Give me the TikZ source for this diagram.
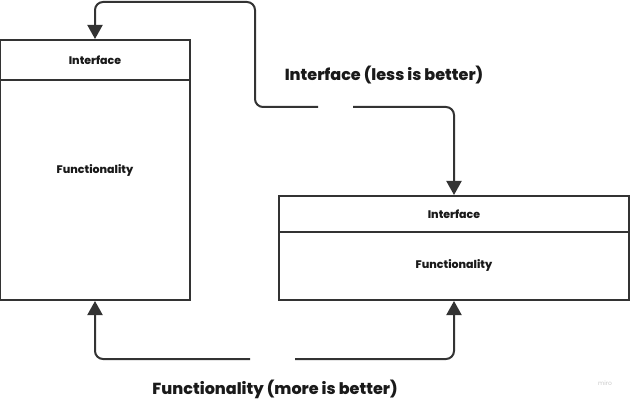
\documentclass[tikz,border=0pt]{standalone}
\usepackage{fontspec}
\setmainfont{Poppins}[BoldFont={Poppins ExtraBold}]
\usetikzlibrary{arrows.meta}
\definecolor{inkgray}{HTML}{333333}
\definecolor{textblack}{HTML}{1A1A1A}
\definecolor{mirogray}{HTML}{C8C8C8}

\begin{document}
\begin{tikzpicture}[x=1pt, y=-1pt, >={Triangle[width=15pt,length=14pt]},
    box/.style={draw=inkgray, line width=2pt, fill=white, inner sep=0pt},
    lbl/.style={text=textblack, font=\bfseries\fontsize{11}{13}\selectfont},
    caption/.style={text=textblack, font=\bfseries\fontsize{16}{19}\selectfont},
    conn/.style={draw=inkgray, line width=2pt, rounded corners=8pt, ->}]

    \useasboundingbox (0,0) rectangle (630,401);

    % left component
    \node[box, minimum width=190pt, minimum height=40pt] (lint) at (95,60) {};
    \node[box, minimum width=190pt, minimum height=220pt] (lfun) at (95,190) {};
    \node[lbl] (lintxt) at (95,60) {Interface};
    \node[lbl] (lfuntxt) at (95,170) {Functionality};

    % right component
    \node[box, minimum width=350pt, minimum height=36pt] (rint) at (454,214) {};
    \node[box, minimum width=350pt, minimum height=68pt] (rfun) at (454,266) {};
    \node[lbl] (rintxt) at (454,214) {Interface};
    \node[lbl] (rfuntxt) at (454,265) {Functionality};

    % captions
    \node[caption] (icap) at (384,75) {Interface (less is better)};
    \node[caption] (fcap) at (275,389) {Functionality (more is better)};
    \node[text=mirogray, font=\fontsize{6}{7}\selectfont] (miro) at (605,383) {miro};

    % interface arrows
    \coordinate (ia) at (318,107);
    \coordinate (ib) at (353,107);
    \coordinate (itop) at (255,2);
    \draw[conn] (ia) -| (itop) -| (lint.north);
    \draw[conn] (ib) -| (rint.north);

    % functionality arrows
    \coordinate (fa) at (250,359);
    \coordinate (fb) at (295,359);
    \draw[conn] (fa) -| (lfun.south);
    \draw[conn] (fb) -| (rfun.south);
\end{tikzpicture}
\end{document}
